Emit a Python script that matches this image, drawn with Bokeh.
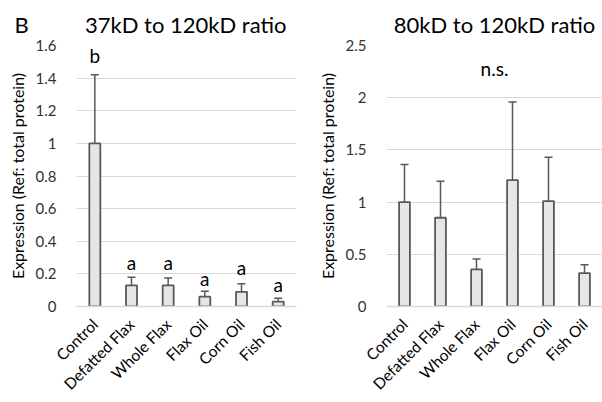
import math
from bokeh.plotting import figure
from bokeh.layouts import row
from bokeh.models import Range1d, FixedTicker, Label, ColumnDataSource, Whisker, TeeHead
from bokeh.embed import file_html
from bokeh.resources import INLINE

categories = ["Control", "Defatted Flax", "Whole Flax", "Flax Oil", "Corn Oil", "Fish Oil"]

# Panel 1: 37kD to 120kD ratio
ratio37_mean = [1.00, 0.13, 0.13, 0.06, 0.09, 0.03]
ratio37_err = [0.42, 0.05, 0.045, 0.033, 0.05, 0.02]
ratio37_letters = ["b", "a", "a", "a", "a", "a"]
ratio37_letter_y = [1.54, 0.27, 0.27, 0.17, 0.24, 0.135]
ratio37_ticks = [0, 0.2, 0.4, 0.6, 0.8, 1.0, 1.2, 1.4, 1.6]
ratio37_ticklabels = ["0", "0.2", "0.4", "0.6", "0.8", "1", "1.2", "1.4", "1.6"]

# Panel 2: 80kD to 120kD ratio
ratio80_mean = [1.00, 0.85, 0.355, 1.21, 1.01, 0.32]
ratio80_err = [0.36, 0.35, 0.10, 0.75, 0.42, 0.08]
ratio80_ticks = [0, 0.5, 1.0, 1.5, 2.0, 2.5]
ratio80_ticklabels = ["0", "0.5", "1", "1.5", "2", "2.5"]
ratio80_note = "n.s."
ratio80_note_y = 2.28

panel_tag = "B"

FONT = "Lato"
DARK = "#595959"
FILL = "#e7e6e6"
GRID = "#d9d9d9"
TXT = "#000000"
NBSP = "\u00a0"


def make_panel(title, means, errs, ymax, ticks, ticklabels, width, border_left, border_right, border_top):
    xs = [i + 0.5 for i in range(len(categories))]
    p = figure(width=width, height=402, output_backend="svg", toolbar_location=None,
               x_range=Range1d(0, len(categories)), y_range=Range1d(0, ymax),
               min_border_left=border_left, min_border_right=border_right,
               min_border_top=border_top, min_border_bottom=96, title=title)
    p.title.text_font = FONT
    p.title.text_font_size = "22px"
    p.title.text_font_style = "normal"
    p.title.text_color = TXT
    p.title.standoff = 15
    p.outline_line_color = None
    p.background_fill_color = "white"
    p.border_fill_color = "white"
    src = ColumnDataSource(dict(x=xs, top=means,
                                upper=[m + e for m, e in zip(means, errs)],
                                lower=[m - e for m, e in zip(means, errs)]))
    p.vbar(x="x", top="top", width=0.3, bottom=0, source=src,
           fill_color=FILL, line_color=DARK, line_width=1.8)
    w = Whisker(base="x", upper="upper", lower="lower", source=src,
                line_color=DARK, line_width=1.5,
                upper_head=TeeHead(size=8, line_color=DARK, line_width=1.5),
                lower_head=TeeHead(size=8, line_color=DARK, line_width=1.5))
    p.add_layout(w)

    # axes
    p.xaxis.ticker = FixedTicker(ticks=xs)
    p.xaxis.major_label_overrides = {x: c for x, c in zip(xs, categories)}
    p.xaxis.major_label_orientation = math.pi / 4
    p.xaxis.major_label_text_font = FONT
    p.xaxis.major_label_text_font_size = "15.5px"
    p.xaxis.major_label_text_color = TXT
    p.xaxis.major_tick_line_color = None
    p.xaxis.minor_tick_line_color = None
    p.xaxis.axis_line_color = GRID
    p.xaxis.axis_line_width = 1.5
    p.xaxis.major_label_standoff = 9

    p.yaxis.ticker = FixedTicker(ticks=ticks)
    p.yaxis.major_label_overrides = {t: l for t, l in zip(ticks, ticklabels)}
    p.yaxis.major_label_text_font = FONT
    p.yaxis.major_label_text_font_size = "15px"
    p.yaxis.major_label_text_color = "#333333"
    p.yaxis.major_tick_line_color = None
    p.yaxis.minor_tick_line_color = None
    p.yaxis.axis_line_color = None
    p.yaxis.major_label_standoff = 14
    p.yaxis.axis_label = "Expression (Ref: total protein)"
    p.yaxis.axis_label_text_font = FONT
    p.yaxis.axis_label_text_font_size = "16px"
    p.yaxis.axis_label_text_font_style = "normal"
    p.yaxis.axis_label_text_color = TXT
    p.yaxis.axis_label_standoff = 6

    p.xgrid.grid_line_color = None
    p.ygrid.grid_line_color = GRID
    p.ygrid.grid_line_width = 1.2
    return p, xs


p1, xs = make_panel(panel_tag + NBSP * 10 + "37kD to 120kD ratio", ratio37_mean, ratio37_err, 1.6,
                    ratio37_ticks, ratio37_ticklabels, 300, 76, 4, 45)
p1.title.align = "left"
p1.title.offset = -62
for x, t, y in zip(xs, ratio37_letters, ratio37_letter_y):
    p1.add_layout(Label(x=x, y=y, text=t, text_font=FONT, text_font_size="19px",
                        text_color=TXT, text_align="center", text_baseline="middle"))

p2, xs2 = make_panel("80kD to 120kD ratio", ratio80_mean, ratio80_err, 2.5,
                     ratio80_ticks, ratio80_ticklabels, 302, 86, 0, 44)
p2.title.align = "center"
p2.add_layout(Label(x=3.0, y=ratio80_note_y, text=ratio80_note, text_font=FONT,
                    text_font_size="19px", text_color=TXT, text_align="center",
                    text_baseline="middle"))

layout = row(p1, p2, spacing=0)
open("out.html", "w").write(file_html(layout, INLINE))
